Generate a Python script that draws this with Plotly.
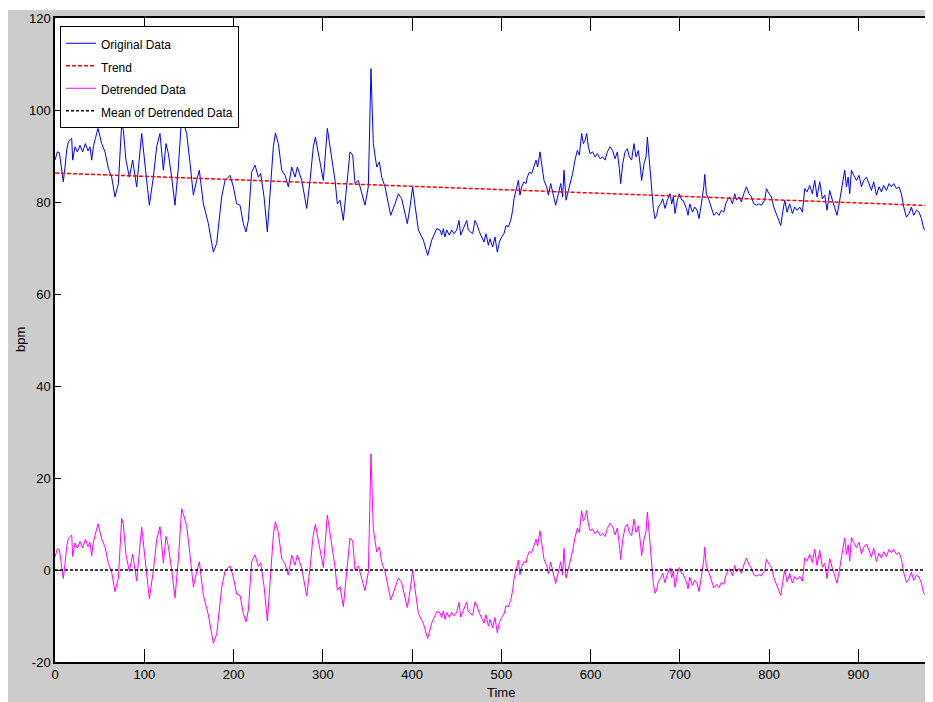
import numpy as np
import plotly.graph_objects as go

# ---- data (original heart-rate series, three stretches) ----
time_a = [0.0, 2.6, 4.9, 6.4, 8.6, 9.3, 11.2, 13.1, 15.0, 18.7, 19.8, 22.4, 25.0, 28.0, 31.0, 34.0, 37.0,
          39.2, 41.1, 43.0, 45.2, 48.2, 52.3, 56.0, 59.8, 63.5, 67.2, 71.0, 74.7, 76.6, 79.5, 83.3, 87.0,
          91.5, 97.1, 100.8, 105.7, 110.2, 113.9, 117.6, 121.4, 124.4, 127.0, 130.7, 134.4, 138.2, 141.9,
          143.8, 147.5, 151.3, 155.0, 158.7, 161.7, 166.2, 171.8, 177.4, 181.1, 186.7, 190.5, 196.1, 199.8,
          203.5, 207.3, 211.0, 214.0, 216.6, 220.3, 224.1, 227.8, 230.4, 234.2, 237.9, 241.6, 244.6, 246.9,
          250.2, 254.0, 257.7, 261.4, 265.2, 268.9, 271.5, 276.4, 282.0, 285.7, 289.4, 291.7, 296.1, 300.6,
          305.1, 308.8, 313.7, 316.3, 319.3, 323.0, 326.0, 330.5, 333.5, 336.1, 339.8, 343.6, 347.3, 351.0,
          352.9, 354.0, 355.5, 356.6, 360.4, 363.4, 366.0, 369.7, 373.5, 376.1, 380.9, 384.7, 388.4, 392.1,
          394.7, 397.7, 400.7, 403.3, 407.1, 412.7, 417.5, 422.0, 427.6]
bpm_a = [89.1, 90.9, 90.7, 88.4, 85.4, 84.4, 87.6, 91.3, 93.1, 93.8, 89.1, 92.0, 90.9, 92.3, 90.9, 92.7, 91.1,
         92.0, 89.1, 92.0, 93.8, 96.0, 92.7, 90.9, 87.3, 85.4, 81.1, 84.0, 97.0, 95.6, 89.1, 85.4, 89.1,
         83.3, 94.9, 87.6, 79.3, 85.4, 92.0, 94.9, 86.9, 92.7, 90.5, 85.4, 79.3, 87.6, 98.6,
         97.4, 94.9, 88.4, 81.5, 84.7, 86.9, 79.6, 75.3, 69.1, 71.0, 81.1, 84.7, 85.8, 83.3,
         79.6, 79.3, 75.3, 73.5, 76.0, 86.5, 88.0, 85.4, 86.2, 81.1, 73.5, 83.3, 92.0, 95.0,
         92.7, 86.9, 85.8, 83.3, 87.6, 85.4, 87.6, 84.7, 78.6, 84.7, 92.0, 94.1, 89.8, 84.7,
         96.0, 91.3, 84.7, 79.6, 80.4, 76.0, 81.8, 90.9, 90.2, 84.0, 84.7, 81.8, 79.3, 83.3,
         99.2, 109.0, 99.2, 92.7, 87.6, 88.7, 85.4, 83.3, 79.6, 77.1, 79.6, 81.8, 80.7, 77.5,
         75.3, 78.9, 83.3, 79.3, 73.9, 71.7, 68.4, 71.7, 74.2]

time_b = [431.3, 433.2, 435.0, 436.9, 438.8, 441.8, 444.4, 447.0, 450.0, 452.6, 454.5, 456.7, 459.3, 461.2,
          463.0, 465.7, 467.9, 470.5, 472.4, 475.4, 478.0, 480.6, 482.8, 485.5, 487.3, 490.3, 492.9, 495.5,
          497.8, 500.4, 503.0, 505.2, 507.9, 510.5, 512.7, 514.2, 516.4, 519.1, 520.9, 522.8, 525.4, 527.7,
          529.1, 531.4, 534.0, 536.6, 538.9, 540.7, 543.3, 545.2, 547.8, 550.8, 552.7, 555.3, 558.3, 560.9,
          563.9, 566.5, 568.7, 570.2, 572.5, 575.1, 577.7, 579.9, 582.5, 585.2, 587.4, 590.0, 591.9, 593.8,
          595.6, 597.5, 599.4, 602.3, 604.9, 607.6, 610.6, 613.5, 616.2, 618.8, 621.8, 624.7, 627.4, 630.0,
          632.2, 633.7, 636.0, 638.6, 641.2, 643.4, 646.0, 648.6, 650.9, 653.5, 655.4, 657.2, 659.9, 662.1,
          663.6, 665.8, 667.3, 668.8, 670.3, 672.2, 674.0, 675.9, 678.5, 680.8, 683.4, 686.0, 689.0, 690.9,
          692.7, 694.6, 697.2, 699.4, 702.1]
bpm_b = [73.9, 72.8, 74.2, 72.4, 73.9, 72.8, 73.9, 73.1, 73.9, 76.0, 72.8, 73.9, 75.3, 76.0,
         73.9, 73.5, 73.1, 76.0, 75.3, 73.5, 72.4, 71.3, 73.1, 70.6, 72.0, 70.2, 72.4, 69.1,
         71.3, 72.4, 73.1, 74.9, 74.6, 76.0, 78.2, 80.7, 82.5, 84.7, 81.5, 83.3, 84.4, 84.0,
         85.4, 86.5, 86.2, 87.6, 89.1, 87.6, 90.9, 88.3, 84.7, 83.3, 81.5, 84.0, 81.1, 79.3,
         81.8, 84.0, 81.1, 86.9, 80.4, 82.5, 84.0, 86.2, 89.1, 91.2, 90.2, 94.9, 92.7, 93.4,
         94.9, 92.0, 90.5, 90.9, 89.8, 90.5, 89.4, 89.8, 89.1, 90.9, 92.0, 91.2, 89.4, 90.9,
         87.3, 84.0, 88.3, 90.9, 91.6, 89.8, 89.1, 92.7, 89.8, 91.2, 88.3, 84.7, 88.3, 89.8,
         94.1, 88.3, 84.7, 81.1, 78.6, 76.4, 77.1, 78.9, 79.6, 80.7, 78.6, 80.4, 81.8, 79.6,
         81.1, 77.5, 80.4, 81.8, 80.4]

time_c = [703.6, 707.3, 709.2, 711.1, 714.1, 716.7, 719.3, 721.5, 724.1, 726.8, 727.9, 729.7, 732.7, 736.5,
          738.0, 740.9, 743.9, 746.5, 749.2, 751.4, 754.0, 755.9, 758.9, 761.5, 763.4, 766.3, 769.0, 771.6,
          774.6, 777.5, 780.2, 782.8, 785.8, 788.7, 791.4, 795.1, 797.0, 799.9, 802.6, 805.2, 808.2, 811.2,
          813.0, 815.6, 817.5, 820.1, 823.1, 826.1, 828.7, 831.3, 834.3, 837.3, 839.9, 842.5, 845.5, 848.5,
          851.1, 853.7, 856.7, 859.7, 862.3, 864.9, 867.9, 870.9, 873.5, 876.1, 879.1, 882.1, 884.7, 886.6,
          888.5, 890.3, 892.2, 894.8, 897.8, 900.8, 903.4, 906.0, 909.0, 912.0, 914.6, 917.2, 920.2, 923.2,
          925.8, 928.4, 931.4, 934.4, 937.0, 939.6, 942.6, 945.6, 948.2, 950.8, 953.8, 956.8, 959.4, 962.0,
          965.0, 968.0, 970.6, 973.2, 976.2, 978.1, 980.0, 981.8, 983.7]
bpm_c = [80.4, 78.6, 77.1, 79.6, 77.8, 78.9, 78.2, 76.4, 79.6, 83.3, 86.0, 81.8, 80.4, 78.2,
         77.1, 77.8, 77.1, 78.2, 77.8, 79.6, 80.7, 81.1, 79.6, 81.8, 80.4, 81.1, 80.0, 81.8,
         83.3, 81.8, 81.1, 79.6, 79.3, 79.6, 79.3, 80.4, 82.9, 81.8, 81.1, 78.9, 77.5, 76.0,
         74.9, 78.2, 80.4, 77.8, 79.6, 77.5, 78.9, 78.2, 78.9, 77.8, 82.9, 82.2, 83.6, 81.8,
         84.7, 81.1, 84.4, 80.7, 81.5, 78.2, 82.5, 80.4, 78.9, 77.1, 80.4, 83.6, 86.9, 83.3,
         85.4, 81.8, 86.9, 85.8, 84.7, 85.8, 83.3, 84.7, 85.4, 84.0, 82.5, 84.4, 81.5, 83.3,
         82.2, 83.6, 82.5, 84.0, 83.3, 84.0, 82.9, 83.3, 81.8, 78.9, 76.7, 77.5, 78.9, 77.1,
         78.2, 77.8, 76.4, 74.2, 73.8, 72.4, 74.6, 76.0, 76.0]

# linear trend (start, end)
trend_t = [0.0, 983.7]
trend_vals = [86.3, 79.2]
# mean of the detrended data (black dotted line)
mean_detrended = 0.0

x_ticks = [0, 100, 200, 300, 400, 500, 600, 700, 800, 900]
y_ticks = [-20, 0, 20, 40, 60, 80, 100, 120]

# ---- assemble and derive: detrended = original - trend ----
t = np.array(time_a + time_b + time_c)
y = np.array(bpm_a + bpm_b + bpm_c)
assert len(t) == len(y)
trend_at_t = np.interp(t, trend_t, trend_vals)
detrended = y - trend_at_t

FONT = "Liberation Sans, Arial, Helvetica, sans-serif"


def lg(name):
    return '<span style="font-size:12px">' + name + '</span>'


fig = go.Figure()
fig.add_trace(go.Scatter(x=t, y=y, mode="lines", name=lg("Original Data"),
                         line=dict(color="#0000ff", width=1)))
fig.add_trace(go.Scatter(x=trend_t, y=trend_vals, mode="lines", name=lg("Trend"),
                         line=dict(color="#ff0000", width=1.5, dash="4px,2px")))
fig.add_trace(go.Scatter(x=t, y=detrended, mode="lines", name=lg("Detrended Data"),
                         line=dict(color="#ff00ff", width=1)))
fig.add_trace(go.Scatter(x=[t[0], t[-1]], y=[mean_detrended, mean_detrended], mode="lines",
                         name=lg("Mean of Detrended Data"),
                         line=dict(color="#000000", width=1.5, dash="3px,2px")))

# page body has an 8px margin; the figure is placed at (8, 8)
W, H = 925, 694
L, R, T, B = 47, 0, 10, 40
pw, ph = W - L - R, H - T - B

fig.update_layout(
    width=W, height=H,
    margin=dict(l=L, r=R, t=T, b=B, pad=0),
    paper_bgcolor="#cccccc",
    plot_bgcolor="#ffffff",
    font=dict(family=FONT, size=13, color="#000000"),
    showlegend=True,
    legend=dict(x=(52 - L) / pw, y=1 - (18 - T) / ph, xanchor="left", yanchor="top",
                bgcolor="#ffffff", bordercolor="#000000", borderwidth=1,
                font=dict(family=FONT, size=15, color="#000000"),
                itemwidth=30, tracegroupgap=0),
    xaxis=dict(range=[0, 983.6], tickvals=x_ticks, ticktext=[str(v) for v in x_ticks],
               ticks="inside", ticklen=13, tickcolor="#000000", tickwidth=1,
               showline=True, linecolor="#000000", linewidth=1.5, mirror="ticks",
               showgrid=False, zeroline=False, tickfont=dict(size=13)),
    yaxis=dict(range=[-20, 120], tickvals=y_ticks, ticktext=[str(v) for v in y_ticks],
               ticks="inside", ticklen=6, tickcolor="#000000", tickwidth=1,
               showline=True, linecolor="#000000", linewidth=1.5, mirror=False,
               showgrid=False, zeroline=False, tickfont=dict(size=13)),
    shapes=[
        # thin white strip above the gray figure area
        dict(type="rect", xref="paper", yref="paper", x0=-L / pw - 0.01, x1=1.02,
             y0=1 + (T - 2) / ph, y1=1 + T / ph + 0.01, fillcolor="#ffffff", line=dict(width=0),
             layer="below"),
    ],
    annotations=[
        dict(text="Time", x=500, xref="x", y=-(685 - (T + ph)) / ph, yref="paper",
             showarrow=False, font=dict(size=13), xanchor="center", yanchor="middle"),
        dict(text="bpm", x=-(L - 12) / pw, xref="paper", y=0.5, yref="paper",
             showarrow=False, textangle=-90, font=dict(size=13), xanchor="center", yanchor="middle"),
    ],
)

fig.write_html("out.html")
